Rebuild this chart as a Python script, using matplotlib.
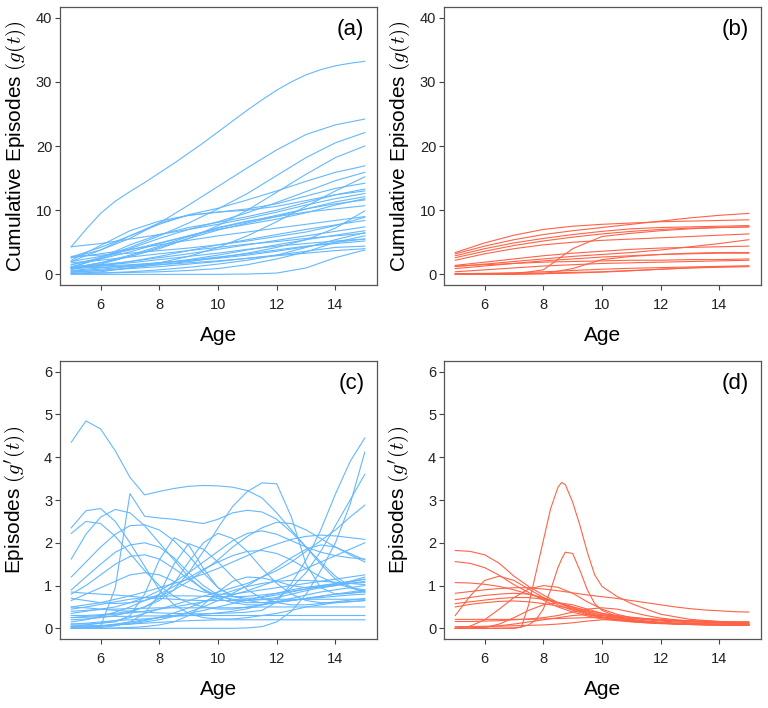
import numpy as np
import matplotlib.pyplot as plt

plt.rcParams['font.family'] = ['Liberation Sans', 'DejaVu Sans']
plt.rcParams['mathtext.fontset'] = 'cm'

ages_cum = np.linspace(5, 15, 11)
ages_rate = np.linspace(5, 15, 21)
# finer reading around the two sharp peaks of panel (d)
ages_peak = [5, 6, 7, 7.25, 7.5, 7.75, 8, 8.25, 8.5, 8.625, 8.75, 9, 9.25, 9.5,
             9.75, 10, 10.5, 11, 11.5, 12, 13, 14, 15]

# (a) top curve, read every half year
cum_blue_top = [4.3, 7.0, 9.5, 11.4, 12.9, 14.3, 15.8, 17.3, 18.9, 20.5, 22.2,
                23.9, 25.6, 27.2, 28.7, 30.0, 31.1, 31.9, 32.5, 32.9, 33.2]

# (a) cumulative episodes, blue group
cum_blue = [
    [2.6, 3.8, 5.6, 8.0, 10.8, 13.7, 16.6, 19.4, 21.8, 23.3, 24.2],
    [1.5, 2.6, 4.2, 6.0, 8.0, 10.2, 12.6, 15.4, 18.2, 20.5, 22.1],
    [1.0, 1.8, 2.8, 4.0, 5.6, 7.6, 10.0, 12.8, 15.6, 18.2, 20.0],
    [2.7, 4.2, 6.0, 7.8, 9.3, 10.3, 11.6, 13.0, 14.5, 15.9, 16.9],
    [1.2, 2.4, 4.0, 5.6, 7.0, 8.2, 9.6, 11.2, 12.9, 14.6, 15.9],
    [0.1, 0.4, 1.0, 1.8, 2.8, 4.2, 6.0, 8.2, 10.6, 13.0, 15.2],
    [2.2, 4.5, 6.8, 8.3, 9.2, 9.7, 10.2, 11.0, 12.2, 13.4, 14.2],
    [1.0, 2.6, 4.6, 6.2, 7.3, 8.1, 9.0, 10.0, 11.2, 12.4, 13.3],
    [2.0, 3.8, 6.0, 8.0, 9.2, 9.7, 10.0, 10.6, 11.5, 12.4, 13.0],
    [4.3, 4.8, 5.5, 6.2, 7.0, 7.8, 8.7, 9.7, 10.8, 11.8, 12.6],
    [0.8, 1.6, 2.8, 4.2, 5.6, 6.9, 8.0, 9.0, 10.2, 11.3, 12.1],
    [1.5, 2.4, 3.5, 4.8, 6.0, 7.2, 8.2, 9.2, 10.2, 11.0, 11.6],
    [1.0, 1.8, 3.0, 4.4, 5.9, 7.3, 8.3, 9.0, 9.7, 10.2, 10.7],
    [0.3, 0.6, 1.0, 1.5, 2.0, 2.6, 3.3, 4.2, 5.4, 7.2, 9.9],
    [2.6, 3.2, 3.9, 4.6, 5.3, 6.0, 6.6, 7.2, 7.8, 8.4, 9.0],
    [0.8, 1.3, 2.0, 2.8, 3.7, 4.6, 5.4, 6.2, 7.0, 7.7, 8.4],
    [1.2, 1.5, 2.0, 2.6, 3.2, 3.9, 4.6, 5.3, 6.0, 6.7, 7.4],
    [0.5, 0.8, 1.2, 1.7, 2.3, 3.0, 3.8, 4.6, 5.4, 6.1, 6.8],
    [1.8, 2.2, 2.7, 3.2, 3.7, 4.2, 4.7, 5.1, 5.6, 6.0, 6.4],
    [0.2, 0.2, 0.3, 0.4, 0.6, 0.9, 1.5, 2.4, 3.5, 5.0, 6.0],
    [1.0, 1.4, 1.8, 2.3, 2.8, 3.3, 3.9, 4.4, 4.8, 5.2, 5.5],
    [0.6, 1.0, 1.4, 1.8, 2.2, 2.7, 3.2, 3.8, 4.4, 4.8, 5.2],
    [0.0, 0.0, 0.0, 0.0, 0.0, 0.0, 0.05, 0.2, 1.0, 2.6, 3.8],
    [1.2, 1.3, 1.5, 1.8, 2.1, 2.5, 3.0, 3.6, 4.3, 5.0, 5.5],
    [2.8, 3.0, 3.3, 3.7, 4.1, 4.6, 5.2, 5.9, 6.6, 7.6, 8.9],
    [0.1, 0.2, 0.4, 0.7, 1.1, 1.6, 2.2, 3.0, 4.2, 5.4, 6.5],
    [1.0, 1.1, 1.3, 1.5, 1.8, 2.1, 2.5, 2.9, 3.3, 3.7, 4.0],
    [2.0, 2.8, 3.8, 4.9, 6.0, 7.0, 7.8, 8.6, 9.6, 10.8, 11.8],
    [0.4, 0.6, 0.9, 1.2, 1.6, 2.0, 2.5, 3.0, 3.6, 4.2, 4.4],
]

# (b) cumulative episodes, red group
cum_red = [
    [3.4, 4.9, 6.1, 7.0, 7.5, 7.8, 8.0, 8.2, 8.3, 8.4, 8.5],
    [3.2, 4.4, 5.4, 6.2, 6.8, 7.3, 7.8, 8.3, 8.8, 9.2, 9.5],
    [2.9, 4.0, 4.9, 5.6, 6.2, 6.7, 7.1, 7.3, 7.4, 7.5, 7.6],
    [2.6, 3.6, 4.5, 5.2, 5.8, 6.3, 6.7, 7.0, 7.2, 7.3, 7.4],
    [2.2, 3.2, 4.0, 4.6, 5.0, 5.3, 5.5, 5.7, 5.9, 6.1, 6.3],
    [0.0, 0.0, 0.05, 0.7, 4.0, 5.9, 6.4, 6.8, 7.1, 7.3, 7.4],
    [0.0, 0.0, 0.0, 0.1, 0.9, 2.3, 2.8, 3.1, 3.3, 3.4, 3.4],
    [1.4, 1.9, 2.4, 2.9, 3.3, 3.6, 3.9, 4.1, 4.2, 4.3, 4.4],
    [1.2, 1.6, 2.0, 2.4, 2.8, 3.1, 3.4, 3.8, 4.3, 4.8, 5.4],
    [0.9, 1.3, 1.7, 2.1, 2.4, 2.7, 2.9, 3.1, 3.2, 3.3, 3.3],
    [1.3, 1.5, 1.7, 1.9, 2.0, 2.1, 2.2, 2.2, 2.3, 2.3, 2.4],
    [0.4, 0.7, 1.0, 1.3, 1.5, 1.7, 1.8, 1.9, 2.0, 2.1, 2.2],
    [0.1, 0.15, 0.25, 0.4, 0.6, 0.8, 0.95, 1.05, 1.15, 1.25, 1.3],
    [0.0, 0.0, 0.05, 0.1, 0.2, 0.35, 0.55, 0.8, 1.0, 1.2, 1.3],
    [0.05, 0.1, 0.15, 0.2, 0.3, 0.4, 0.6, 0.8, 1.0, 1.1, 1.2],
]

# (c) episode rate, blue group
rate_blue = [
    [4.35, 4.85, 4.66, 4.15, 3.53, 3.12, 3.2, 3.27, 3.32, 3.34, 3.33, 3.3, 3.22, 3.05, 2.7, 2.3, 1.9, 1.55, 1.22, 0.98, 0.85],
    [0.0, 0.02, 0.05, 0.95, 3.15, 2.62, 2.58, 2.55, 2.5, 2.45, 2.55, 2.7, 2.76, 2.72, 2.55, 2.25, 1.9, 1.5, 1.15, 0.95, 0.85],
    [2.35, 2.75, 2.8, 2.5, 2.0, 1.45, 0.9, 0.55, 0.35, 0.25, 0.22, 0.22, 0.25, 0.3, 0.35, 0.42, 0.5, 0.55, 0.6, 0.63, 0.65],
    [2.22, 2.5, 2.45, 2.15, 1.75, 1.35, 1.0, 0.75, 0.6, 0.5, 0.45, 0.45, 0.5, 0.55, 0.62, 0.7, 0.78, 0.85, 0.9, 0.95, 1.0],
    [1.62, 2.2, 2.6, 2.78, 2.7, 2.4, 2.0, 1.6, 1.2, 0.9, 0.7, 0.6, 0.55, 0.55, 0.6, 0.65, 0.7, 0.75, 0.8, 0.85, 0.9],
    [1.2, 1.55, 1.9, 2.2, 2.4, 2.42, 2.3, 2.05, 1.7, 1.3, 0.95, 0.75, 0.65, 0.6, 0.62, 0.65, 0.7, 0.72, 0.75, 0.78, 0.8],
    [0.9, 1.2, 1.5, 1.78, 1.95, 2.0, 1.9, 1.65, 1.3, 1.0, 0.78, 0.65, 0.6, 0.6, 0.62, 0.65, 0.7, 0.75, 0.8, 0.82, 0.85],
    [0.8, 1.0, 1.25, 1.5, 1.68, 1.72, 1.62, 1.4, 1.15, 0.92, 0.75, 0.68, 0.65, 0.68, 0.72, 0.8, 0.88, 0.95, 1.0, 1.05, 1.1],
    [0.3, 0.3, 0.32, 0.35, 0.4, 0.5, 0.65, 0.9, 1.3, 1.8, 2.35, 2.85, 3.2, 3.4, 3.38, 2.6, 1.5, 0.95, 0.8, 0.82, 0.88],
    [0.5, 0.48, 0.45, 0.42, 0.4, 0.38, 0.36, 0.35, 0.34, 0.34, 0.35, 0.36, 0.38, 0.42, 0.62, 1.05, 1.6, 2.3, 3.14, 3.9, 4.45],
    [0.0, 0.0, 0.0, 0.0, 0.0, 0.0, 0.0, 0.0, 0.0, 0.0, 0.0, 0.0, 0.01, 0.04, 0.15, 0.4, 0.8, 1.35, 2.0, 2.9, 4.12],
    [0.1, 0.12, 0.15, 0.18, 0.2, 0.22, 0.25, 0.28, 0.3, 0.33, 0.36, 0.4, 0.46, 0.55, 0.7, 0.95, 1.3, 1.8, 2.4, 3.0, 3.6],
    [0.05, 0.08, 0.12, 0.18, 0.25, 0.35, 0.45, 0.55, 0.65, 0.75, 0.85, 0.95, 1.05, 1.2, 1.35, 1.55, 1.8, 2.05, 2.3, 2.6, 2.88],
    [0.5, 0.55, 0.6, 0.68, 0.76, 0.85, 0.95, 1.05, 1.15, 1.27, 1.4, 1.55, 1.7, 1.85, 1.97, 2.08, 2.15, 2.18, 2.16, 2.12, 2.08],
    [0.25, 0.28, 0.3, 0.33, 0.36, 0.4, 0.45, 0.5, 0.56, 0.62, 0.7, 0.78, 0.88, 1.0, 1.12, 1.25, 1.4, 1.55, 1.7, 1.85, 2.0],
    [0.05, 0.05, 0.06, 0.08, 0.1, 0.15, 0.2, 0.28, 0.38, 0.5, 0.65, 0.82, 1.0, 1.2, 1.42, 1.65, 1.85, 1.95, 1.9, 1.75, 1.6],
    [0.1, 0.1, 0.12, 0.15, 0.3, 0.8, 1.6, 2.12, 1.95, 1.4, 0.95, 0.75, 0.7, 0.72, 0.78, 0.85, 0.92, 1.0, 1.05, 1.1, 1.15],
    [0.0, 0.0, 0.02, 0.06, 0.15, 0.35, 0.8, 1.5, 1.98, 1.85, 1.55, 1.2, 0.9, 0.7, 0.6, 0.55, 0.55, 0.58, 0.62, 0.66, 0.7],
    [0.2, 0.22, 0.25, 0.3, 0.38, 0.5, 0.7, 1.05, 1.55, 2.0, 2.22, 2.1, 1.8, 1.4, 1.05, 0.8, 0.65, 0.6, 0.6, 0.62, 0.65],
    [0.7, 0.65, 0.6, 0.58, 0.6, 0.65, 0.75, 0.9, 1.1, 1.35, 1.6, 1.9, 2.15, 2.35, 2.48, 2.45, 2.3, 2.1, 1.9, 1.72, 1.55],
    [0.35, 0.4, 0.45, 0.5, 0.6, 0.72, 0.88, 1.08, 1.3, 1.55, 1.8, 2.05, 2.22, 2.28, 2.2, 2.05, 1.9, 1.78, 1.7, 1.65, 1.62],
    [0.65, 0.8, 0.95, 1.1, 1.25, 1.3, 1.25, 1.1, 0.95, 0.85, 0.8, 0.8, 0.85, 0.9, 0.95, 1.0, 1.05, 1.1, 1.15, 1.2, 1.25],
    [0.15, 0.2, 0.28, 0.38, 0.5, 0.65, 0.8, 0.98, 1.18, 1.38, 1.55, 1.7, 1.8, 1.82, 1.75, 1.6, 1.4, 1.2, 1.05, 0.95, 0.9],
    [0.05, 0.06, 0.07, 0.08, 0.1, 0.12, 0.14, 0.16, 0.18, 0.19, 0.2, 0.2, 0.2, 0.2, 0.2, 0.2, 0.2, 0.2, 0.2, 0.2, 0.2],
    [0.25, 0.26, 0.27, 0.28, 0.28, 0.29, 0.29, 0.3, 0.3, 0.3, 0.3, 0.3, 0.3, 0.3, 0.3, 0.3, 0.3, 0.3, 0.3, 0.3, 0.3],
    [0.4, 0.42, 0.44, 0.45, 0.46, 0.47, 0.48, 0.48, 0.48, 0.48, 0.48, 0.48, 0.49, 0.5, 0.5, 0.5, 0.5, 0.5, 0.5, 0.5, 0.5],
    [0.85, 0.82, 0.8, 0.78, 0.75, 0.72, 0.7, 0.68, 0.66, 0.65, 0.65, 0.65, 0.66, 0.67, 0.68, 0.68, 0.68, 0.68, 0.68, 0.68, 0.68],
    [0.0, 0.02, 0.05, 0.1, 0.15, 0.2, 0.25, 0.3, 0.35, 0.42, 0.5, 0.58, 0.66, 0.74, 0.82, 0.9, 0.96, 1.0, 1.03, 1.05, 1.07],
    [0.45, 0.5, 0.56, 0.62, 0.68, 0.72, 0.75, 0.76, 0.76, 0.75, 0.74, 0.74, 0.75, 0.78, 0.82, 0.87, 0.92, 0.97, 1.02, 1.08, 1.15],
    [0.02, 0.03, 0.05, 0.08, 0.12, 0.18, 0.26, 0.36, 0.48, 0.62, 0.76, 0.88, 0.98, 1.05, 1.1, 1.12, 1.12, 1.1, 1.08, 1.05, 1.02],
    [0.0, 0.0, 0.0, 0.01, 0.02, 0.04, 0.08, 0.15, 0.3, 0.55, 0.85, 1.1, 1.2, 1.18, 1.1, 1.0, 0.95, 0.95, 1.0, 1.1, 1.2],
]

# (d) episode rate, red group
rate_red = [
    [1.82, 1.8, 1.72, 1.52, 1.22, 0.98, 0.78, 0.6, 0.45, 0.34, 0.26, 0.21, 0.17, 0.14, 0.12, 0.11, 0.1, 0.1, 0.09, 0.09, 0.09],
    [1.56, 1.52, 1.42, 1.24, 1.02, 0.84, 0.66, 0.5, 0.38, 0.29, 0.22, 0.18, 0.15, 0.13, 0.12, 0.11, 0.1, 0.1, 0.09, 0.09, 0.09],
    [1.07, 1.06, 1.03, 0.98, 0.9, 0.8, 0.7, 0.6, 0.5, 0.4, 0.3, 0.24, 0.19, 0.16, 0.13, 0.12, 0.11, 0.1, 0.1, 0.1, 0.1],
    [0.3, 0.75, 1.12, 1.22, 1.12, 0.92, 0.72, 0.55, 0.42, 0.32, 0.25, 0.2, 0.16, 0.13, 0.11, 0.1, 0.09, 0.08, 0.08, 0.07, 0.07],
    [0.0, 0.05, 0.2, 0.45, 0.72, 0.92, 1.0, 0.96, 0.82, 0.62, 0.45, 0.33, 0.25, 0.2, 0.17, 0.15, 0.13, 0.12, 0.12, 0.11, 0.11],
    [0.82, 0.86, 0.9, 0.93, 0.95, 0.95, 0.92, 0.88, 0.83, 0.78, 0.74, 0.7, 0.65, 0.6, 0.55, 0.5, 0.46, 0.43, 0.41, 0.39, 0.38],
    [0.67, 0.72, 0.77, 0.8, 0.82, 0.8, 0.72, 0.6, 0.48, 0.36, 0.27, 0.21, 0.17, 0.14, 0.12, 0.1, 0.09, 0.08, 0.08, 0.07, 0.07],
    [0.58, 0.62, 0.66, 0.7, 0.72, 0.72, 0.68, 0.6, 0.5, 0.42, 0.35, 0.3, 0.26, 0.23, 0.21, 0.19, 0.18, 0.17, 0.16, 0.15, 0.15],
    [0.5, 0.56, 0.6, 0.63, 0.64, 0.62, 0.58, 0.52, 0.45, 0.38, 0.32, 0.28, 0.25, 0.22, 0.2, 0.18, 0.17, 0.16, 0.15, 0.14, 0.14],
    [0.21, 0.21, 0.21, 0.21, 0.21, 0.21, 0.22, 0.23, 0.24, 0.25, 0.25, 0.24, 0.23, 0.21, 0.19, 0.17, 0.15, 0.14, 0.13, 0.12, 0.12],
    [0.16, 0.16, 0.17, 0.18, 0.2, 0.22, 0.25, 0.3, 0.38, 0.45, 0.48, 0.45, 0.38, 0.3, 0.24, 0.2, 0.17, 0.15, 0.14, 0.13, 0.12],
    [0.0, 0.0, 0.02, 0.1, 0.25, 0.42, 0.55, 0.6, 0.55, 0.45, 0.35, 0.27, 0.2, 0.16, 0.13, 0.11, 0.1, 0.09, 0.09, 0.08, 0.08],
    [0.0, 0.01, 0.03, 0.06, 0.1, 0.15, 0.2, 0.25, 0.3, 0.32, 0.3, 0.26, 0.21, 0.17, 0.14, 0.12, 0.1, 0.09, 0.08, 0.08, 0.07],
    [0.04, 0.04, 0.05, 0.05, 0.06, 0.07, 0.08, 0.1, 0.13, 0.17, 0.2, 0.2, 0.18, 0.15, 0.13, 0.11, 0.1, 0.09, 0.08, 0.08, 0.07],
]
# the two peaked curves of panel (d), read on ages_peak
peak_red = [
    [0.0, 0.0, 0.0, 0.03, 0.55, 1.3, 2.05, 2.8, 3.3, 3.41, 3.36, 2.95, 2.4, 1.78, 1.25, 0.98, 0.75, 0.58, 0.45, 0.33, 0.21, 0.16, 0.15],
    [0.0, 0.0, 0.01, 0.03, 0.08, 0.2, 0.45, 0.9, 1.42, 1.62, 1.78, 1.75, 1.35, 0.9, 0.58, 0.42, 0.28, 0.2, 0.16, 0.13, 0.1, 0.08, 0.08],
]

blue = '#63B8FF'
red = '#FF6347'
ylab_cum = r'Cumulative Episodes $(g(t))$'
ylab_rate = r"Episodes $(g'(t))$"

fig = plt.figure(figsize=(7.68, 7.08), dpi=100)
w, h = 317 / 768, 277.2 / 708
panels = [
    ([0.0775, 0.598, w, h], [(ages_rate, [cum_blue_top]), (ages_cum, cum_blue)], blue, 40, ylab_cum, '(a)'),
    ([0.5775, 0.598, w, h], [(ages_cum, cum_red)], red, 40, ylab_cum, '(b)'),
    ([0.0775, 0.098, w, h], [(ages_rate, rate_blue)], blue, 6, ylab_rate, '(c)'),
    ([0.5775, 0.098, w, h], [(ages_rate, rate_red), (ages_peak, peak_red)], red, 6, ylab_rate, '(d)'),
]

for rect, groups, col, ytop, ylab, tag in panels:
    ax = fig.add_axes(rect)
    for x, curves in groups:
        for y in curves:
            ax.plot(x, y, color=col, lw=0.8)
    ax.set_xlim(4.6, 15.4)
    ax.set_ylim(-0.04 * ytop, 1.04 * ytop)
    ax.set_xticks([6, 8, 10, 12, 14])
    ax.set_yticks(np.linspace(0, ytop, 5 if ytop == 40 else 7))
    ax.tick_params(direction='out', length=3.8, width=0.8, color='#444444',
                   labelsize=10.5, labelcolor='#222222')
    ax.tick_params(axis='x', pad=6)
    ax.tick_params(axis='y', pad=1.5)
    for s in ax.spines.values():
        s.set_color('#555555')
        s.set_linewidth(0.9)
    ax.set_xlabel('Age', fontsize=15, va='center')
    ax.xaxis.set_label_coords(0.5, -0.182)
    ax.set_ylabel(ylab, fontsize=15, va='center')
    ax.yaxis.set_label_coords(-0.139, 0.5)
    ax.text(0.962, 0.921, tag, transform=ax.transAxes, ha='right', va='center',
            fontsize=16)

fig.savefig('out.png', dpi=100)
